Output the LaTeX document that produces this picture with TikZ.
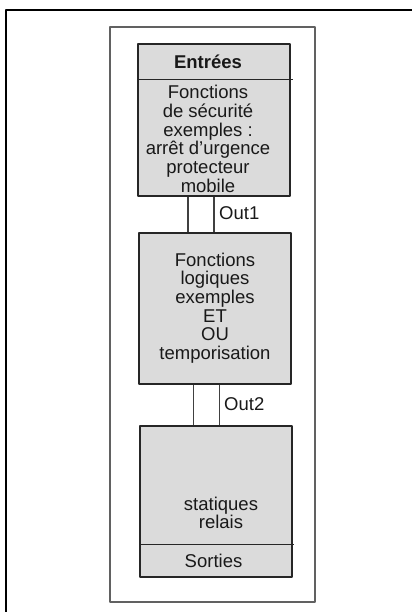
\documentclass[tikz,border=0pt]{standalone}
\usepackage{fontspec}
\setmainfont{Liberation Sans}
\usetikzlibrary{positioning}
\begin{document}
\begin{tikzpicture}[x=1pt, y=-1pt, font=\fontsize{18.5}{18.7}\selectfont, line join=round,
 bloc/.style={draw=black!85, fill=black!14, line width=1.1pt, minimum width=152pt, minimum height=151pt, inner sep=0pt},
 txt/.style={align=center, inner sep=0pt, text=black!90}]
 \useasboundingbox (0,0) rectangle (412,612);
 % cadres
 \draw[line width=1.5pt] (6,612) -- (6,10) -- (412,10);
 \draw[line width=1.4pt, black!62] (110,27) rectangle (315,602);
 % blocs
 \node[bloc, minimum height=152pt] (entrees) at (214,120) {};
 \node[bloc] (logique) at (215,308.5) {};
 \node[bloc] (sorties) at (216,501.5) {};
 \draw[line width=1.1pt, black!85] ([yshift=-36pt]entrees.north west) -- ([yshift=-36pt, xshift=2pt]entrees.north east);
 \draw[line width=1.1pt, black!85] ([yshift=33pt]sorties.south west) -- ([yshift=33pt, xshift=1pt]sorties.south east);
 % textes
 \node[txt, font=\fontsize{18.5}{18.7}\selectfont\bfseries] (titre) at (208,62) {Entrées};
 \node[txt] (securite) at (208,139) {Fonctions\\de sécurité\\exemples :\\arrêt d’urgence\\protecteur\\mobile};
 \node[txt] (fonctions) at (215,308) {Fonctions\\logiques\\exemples\\ET\\OU\\temporisation};
 \node[txt] (relais) at (221,513) {statiques\\relais};
 \node[txt] (sortie) at (213.5,561) {Sorties};
 % liaisons
 \draw[line width=1.1pt, black!75] ([xshift=-26pt]entrees.south) -- ([xshift=-26pt]entrees.south |- logique.north);
 \draw[line width=1.1pt, black!75] (entrees.south) -- (entrees.south |- logique.north);
 \draw[line width=1.1pt, black!75] ([xshift=-22.7pt]sorties.north) -- ([xshift=-22.7pt]sorties.north |- logique.south);
 \draw[line width=1.1pt, black!75] ([xshift=3.3pt]sorties.north) -- ([xshift=3.3pt]sorties.north |- logique.south);
 \node[txt, anchor=west] (out1) at (219,213) {Out1};
 \node[txt, anchor=west] (out2) at (224,404) {Out2};
\end{tikzpicture}
\end{document}
